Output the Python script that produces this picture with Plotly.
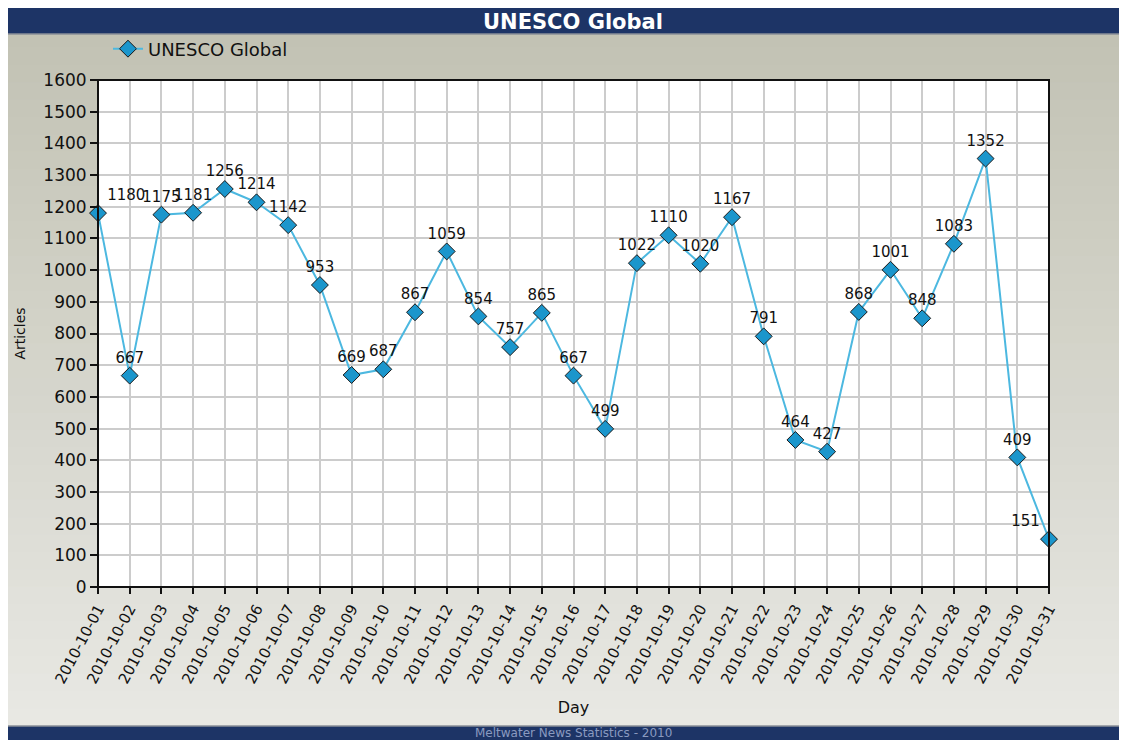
import plotly.graph_objects as go

days = [f"2010-10-{d:02d}" for d in range(1, 32)]
articles = [1180, 667, 1175, 1181, 1256, 1214, 1142, 953, 669, 687, 867, 1059, 854, 757,
            865, 667, 499, 1022, 1110, 1020, 1167, 791, 464, 427, 868, 1001, 848, 1083,
            1352, 409, 151]
y_ticks = list(range(0, 1601, 100))
series_name = "UNESCO Global"

# page geometry (the page has an 8px body margin)
OFF = 8
PW, PH = 1127, 740
W, H = PW - OFF, PH - OFF
L, R, T, B = 96, 1049, 80, 587   # plot area in page pixels


def px_x(px):
    return (px - L) / (R - L)


def px_y(py):
    return (B - py) / (B - T)


text_pos = ["top center"] * len(articles)
text_pos[0] = "top right"
text_pos[-1] = "top left"

fig = go.Figure()
fig.add_trace(go.Scatter(
    x=days, y=articles, name=series_name, mode="lines+markers+text",
    line=dict(color="#4cb8e0", width=2),
    marker=dict(symbol="diamond", size=13, color="#1b96cc",
                line=dict(color="#1a1a1a", width=1)),
    text=[str(v) for v in articles], textposition=text_pos,
    textfont=dict(family="DejaVu Sans", size=15, color="#111111"),
    cliponaxis=False,
))

shapes = []
n = 40
top_c = (194, 194, 180)
bot_c = (232, 232, 227)
y_start, y_end = 30, 726
for i in range(n):
    f = i / (n - 1)
    c = tuple(round(top_c[k] + (bot_c[k] - top_c[k]) * f) for k in range(3))
    y0 = y_start + (y_end - y_start) * i / n
    y1 = y_start + (y_end - y_start) * (i + 1) / n + 1
    shapes.append(dict(type="rect", xref="paper", yref="paper", layer="below",
                       x0=px_x(0), x1=px_x(PW + 2), y0=px_y(y1), y1=px_y(y0),
                       fillcolor="rgb(%d,%d,%d)" % c, line=dict(width=0)))
shapes.append(dict(type="rect", xref="paper", yref="paper", layer="below",
                   x0=0, x1=1, y0=0, y1=1, fillcolor="white", line=dict(width=0)))
# title bar
shapes.append(dict(type="rect", xref="paper", yref="paper", layer="below",
                   x0=px_x(0), x1=px_x(PW + 2), y0=px_y(34), y1=px_y(0),
                   fillcolor="#1d3466", line=dict(width=0)))
shapes.append(dict(type="line", xref="paper", yref="paper", layer="below",
                   x0=px_x(0), x1=px_x(PW + 2), y0=px_y(34), y1=px_y(34),
                   line=dict(color="#8a8f98", width=1.5)))
# footer bar
shapes.append(dict(type="rect", xref="paper", yref="paper", layer="below",
                   x0=px_x(0), x1=px_x(PW + 2), y0=px_y(PH + 5), y1=px_y(726),
                   fillcolor="#1d3466", line=dict(width=0)))
shapes.append(dict(type="line", xref="paper", yref="paper", layer="below",
                   x0=px_x(0), x1=px_x(PW + 2), y0=px_y(726), y1=px_y(726),
                   line=dict(color="#8a8f98", width=1.5)))
# plot border
shapes.append(dict(type="rect", xref="paper", yref="paper", layer="above",
                   x0=0, x1=1, y0=0, y1=1, fillcolor="rgba(0,0,0,0)",
                   line=dict(color="#111111", width=2)))

annotations = [
    dict(text="<b>" + series_name + "</b>", xref="paper", yref="paper",
         x=px_x(572), y=px_y(22), showarrow=False, xanchor="center", yanchor="middle",
         font=dict(family="DejaVu Sans", size=21, color="white")),
    dict(text="Meltwater News Statistics - 2010", xref="paper", yref="paper",
         x=px_x(573), y=px_y(733), showarrow=False, xanchor="center", yanchor="middle",
         font=dict(family="DejaVu Sans", size=12, color="#8a9ac0")),
]

fig.update_layout(
    width=W, height=H,
    margin=dict(l=L - OFF, r=PW - R, t=T - OFF, b=PH - B, pad=0),
    paper_bgcolor="white", plot_bgcolor="white",
    shapes=shapes, annotations=annotations,
    showlegend=True,
    legend=dict(x=px_x(106), y=px_y(49), xanchor="left", yanchor="middle",
                bgcolor="rgba(0,0,0,0)", orientation="h",
                font=dict(family="DejaVu Sans", size=18, color="#111111")),
    font=dict(family="DejaVu Sans", color="#111111"),
)
fig.update_xaxes(
    type="category", range=[0, len(days) - 1], tickangle=-62,
    showgrid=True, gridcolor="#cccccc", gridwidth=2,
    ticks="outside", ticklen=6, tickcolor="#111111", tickwidth=2,
    tickfont=dict(family="DejaVu Sans", size=15, color="#111111"),
    showline=False, zeroline=False,
    title=dict(text="Day", font=dict(family="DejaVu Sans", size=16, color="#111111"), standoff=15),
)
fig.update_yaxes(
    range=[0, 1600], tickvals=y_ticks, ticktext=[str(v) for v in y_ticks],
    showgrid=True, gridcolor="#cccccc", gridwidth=2,
    ticks="outside", ticklen=7, tickcolor="#111111", tickwidth=2,
    tickfont=dict(family="DejaVu Sans", size=17, color="#111111"),
    showline=False, zeroline=False,
    title=dict(text="Articles", font=dict(family="DejaVu Sans", size=14, color="#111111"), standoff=14),
)

fig.write_html("out.html")
